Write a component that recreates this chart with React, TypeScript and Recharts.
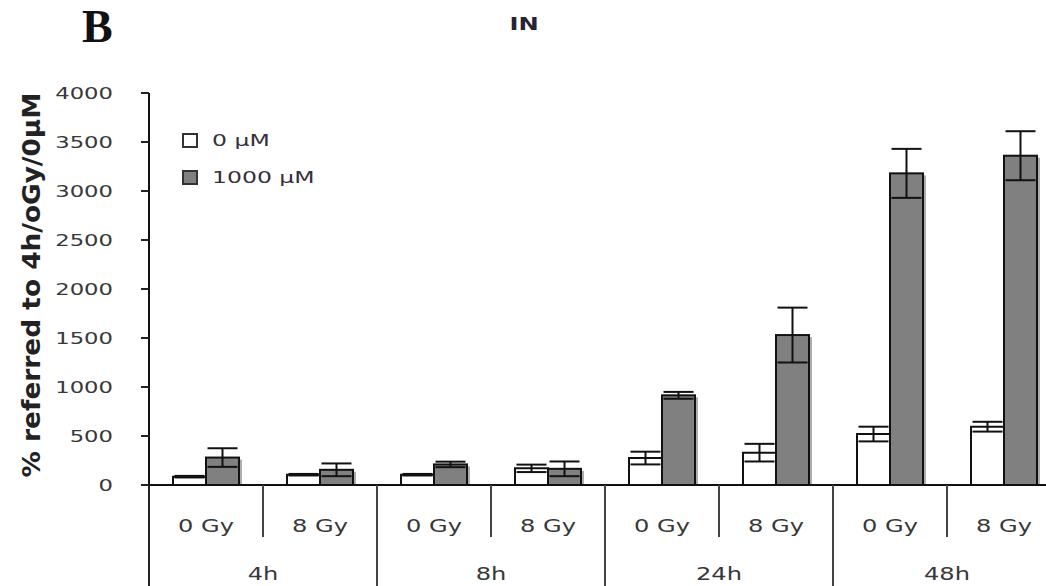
import React from "react";
import { BarChart, Bar, XAxis, YAxis, ErrorBar, Legend } from "recharts";

const times = ["4h", "8h", "24h", "48h"];
const doses = ["0 Gy", "8 Gy"];
const seriesNames = ["0 µM", "1000 µM"];
const control = [85, 105, 105, 170, 275, 330, 520, 595];
const controlErr = [8, 8, 8, 38, 65, 90, 75, 50];
const treated = [280, 155, 210, 165, 915, 1530, 3180, 3360];
const treatedErr = [95, 65, 28, 75, 35, 280, 250, 250];
const yTicks = [0, 500, 1000, 1500, 2000, 2500, 3000, 3500, 4000];

const data = times.flatMap((time, i) =>
  doses.map((dose, j) => {
    const k = i * 2 + j;
    return {
      key: `${time}-${dose}`,
      time,
      dose,
      c: control[k],
      ce: controlErr[k],
      t: treated[k],
      te: treatedErr[k],
    };
  })
);

// layout
const BAND = 114;
const CHART_W = 149 + BAND * 8 + 14;
const CHART_H = 586;
const FONT = "'DejaVu Sans', Verdana, sans-serif";
const STRETCH = 1.42;

function YTick({ x, y, payload }: any) {
  return (
    <text
      transform={`translate(${x},${y + 6}) scale(${STRETCH},1)`}
      textAnchor="end"
      fontSize={16}
      fontFamily={FONT}
      fill="#383838"
    >
      {payload.value}
    </text>
  );
}

function DoseTick({ x, y, index }: any) {
  const row = data[index];
  if (!row) return null;
  const groupEnd = index % 2 === 1;
  return (
    <g>
      <text
        transform={`translate(${x},${y + 47}) scale(${STRETCH},1)`}
        textAnchor="middle"
        fontSize={17}
        fontFamily={FONT}
        fill="#383838"
      >
        {row.dose}
      </text>
      {index === 0 && (
        <line x1={x - BAND / 2} x2={x - BAND / 2} y1={y} y2={y + 101} stroke="#222" strokeWidth={2} />
      )}
      <line
        x1={x + BAND / 2}
        x2={x + BAND / 2}
        y1={y}
        y2={groupEnd ? y + 101 : y + 52}
        stroke="#444"
        strokeWidth={2}
      />
      {!groupEnd && (
        <text
          transform={`translate(${x + BAND / 2},${y + 95}) scale(${STRETCH},1)`}
          textAnchor="middle"
          fontSize={17}
          fontFamily={FONT}
          fill="#383838"
        >
          {row.time}
        </text>
      )}
    </g>
  );
}

function ShadowBar(props: any) {
  const { x, y, width, height, fill } = props;
  if (!height) return null;
  return (
    <g>
      <rect x={x + 3} y={y + 2} width={width} height={height - 2} fill="#333" opacity={0.4} />
      <rect x={x} y={y} width={width} height={height} fill={fill} stroke="#111" strokeWidth={2} />
    </g>
  );
}

function LegendBox({ payload }: any) {
  return (
    <div style={{ fontFamily: FONT, fontSize: 16, color: "#362f3d" }}>
      {(payload || []).map((p: any, i: number) => (
        <div key={i} style={{ display: "flex", alignItems: "center", height: 37 }}>
          <span
            style={{
              display: "inline-block",
              boxSizing: "border-box",
              width: 16,
              height: 15,
              border: "2px solid #333",
              background: p.color,
              marginRight: 14,
            }}
          />
          <span
            style={{
              display: "inline-block",
              transform: `scaleX(${STRETCH + 0.05})`,
              transformOrigin: "left center",
              whiteSpace: "nowrap",
            }}
          >
            {p.value}
          </span>
        </div>
      ))}
    </div>
  );
}

export default function App() {
  return (
    <div
      style={{
        position: "fixed",
        left: 0,
        top: 0,
        width: 1046,
        height: 586,
        overflow: "hidden",
        background: "#fff",
      }}
    >
      <BarChart
        width={CHART_W}
        height={CHART_H}
        data={data}
        margin={{ top: 93, right: 14, left: 89, bottom: 0 }}
        barSize={33}
        barGap={0}
      >
        <YAxis
          width={60}
          domain={[0, 4000]}
          ticks={yTicks}
          interval={0}
          tickSize={8}
          tickMargin={28}
          tick={<YTick />}
          axisLine={{ stroke: "#111", strokeWidth: 2 }}
          tickLine={{ stroke: "#222", strokeWidth: 2 }}
        />
        <XAxis
          dataKey="key"
          height={101}
          interval={0}
          tickSize={0}
          tickMargin={0}
          tickLine={false}
          tick={<DoseTick />}
          axisLine={{ stroke: "#111", strokeWidth: 2 }}
        />
        <Legend
          layout="vertical"
          align="center"
          verticalAlign="middle"
          wrapperStyle={{ left: 182, top: 122, width: 200 }}
          content={<LegendBox />}
        />
        <Bar
          dataKey="c"
          name={seriesNames[0]}
          fill="#ffffff"
          stroke="#111"
          strokeWidth={2}
          isAnimationActive={false}
        >
          <ErrorBar dataKey="ce" width={15} stroke="#111" strokeWidth={2} direction="y" />
        </Bar>
        <Bar
          dataKey="t"
          name={seriesNames[1]}
          fill="#808080"
          shape={<ShadowBar />}
          isAnimationActive={false}
        >
          <ErrorBar dataKey="te" width={15} stroke="#111" strokeWidth={2} direction="y" />
        </Bar>
      </BarChart>
      <svg
        width={1046}
        height={586}
        style={{ position: "absolute", left: 0, top: 0, pointerEvents: "none" }}
      >
        <text x={82} y={42} fontSize={46} fontWeight="bold" fontFamily="'Liberation Serif', serif" fill="#111">
          B
        </text>
        <text
          transform={`translate(524,30) scale(${STRETCH},1)`}
          textAnchor="middle"
          fontSize={17}
          fontWeight="bold"
          fontFamily={FONT}
          fill="#2a2233"
        >
          IN
        </text>
        <text
          transform="translate(40,285) rotate(-90)"
          textAnchor="middle"
          fontSize={24}
          fontWeight="bold"
          fontFamily={FONT}
          fill="#222"
          textLength={385}
          lengthAdjust="spacingAndGlyphs"
        >
          % referred to 4h/oGy/0µM
        </text>
      </svg>
    </div>
  );
}
